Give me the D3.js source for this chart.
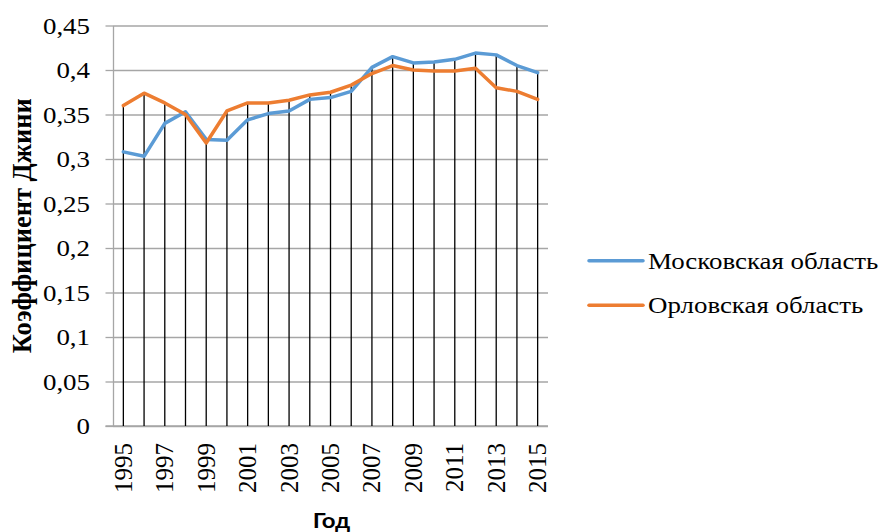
<!DOCTYPE html>
<html><head><meta charset="utf-8">
<script src="https://cdn.jsdelivr.net/npm/d3@7"></script>
<style>
html,body{margin:0;padding:0;background:#fff;}
svg{display:block;}
</style></head>
<body>
<svg id="chart" width="880" height="532"></svg>
<script>
const years = ["1995","1996","1997","1998","1999","2000","2001","2002","2003","2004","2005","2006","2007","2008","2009","2010","2011","2012","2013","2014","2015"];
const xTickLabels = ["1995","1997","1999","2001","2003","2005","2007","2009","2011","2013","2015"];
const yTicks = [0,0.05,0.1,0.15,0.2,0.25,0.3,0.35,0.4,0.45];
const seriesNames = ["Московская область","Орловская область"];
const moscow = [0.308,0.303,0.340,0.353,0.322,0.321,0.344,0.351,0.354,0.367,0.369,0.376,0.403,0.415,0.408,0.409,0.412,0.419,0.417,0.405,0.397];
const orel   = [0.360,0.374,0.363,0.350,0.318,0.354,0.363,0.363,0.366,0.372,0.375,0.383,0.396,0.405,0.400,0.399,0.399,0.402,0.380,0.376,0.367];
const colors = ["#5B9BD5","#ED7D31"];

const SERIF = '"Liberation Serif","Times New Roman",Times,serif';
const SX = 1.17; // horizontal stretch of the reference's type

const svg = d3.select("#chart");
const L = 113, R = 548, T = 25.5, B = 426;
const x = d3.scaleBand().domain(years).range([L, R]);
const y = d3.scaleLinear().domain([0, 0.45]).range([B, T]);
const cx = d => x(d) + x.bandwidth()/2;
const fmt = d => String(+d.toFixed(2)).replace(".", ",");

// gridlines
svg.append("g").attr("transform", `translate(${L},0)`)
  .call(d3.axisLeft(y).tickValues(yTicks).tickSize(-(R-L)).tickFormat(""))
  .call(g => g.select(".domain").remove())
  .call(g => g.selectAll("line").attr("stroke", "#a6a6a6").attr("stroke-width", 1.3));

// y axis
const ya = svg.append("g").attr("transform", `translate(${L},0)`)
  .call(d3.axisLeft(y).tickValues(yTicks).tickSize(7.5).tickSizeOuter(0).tickFormat(fmt));
ya.select(".domain").attr("stroke", "#a6a6a6").attr("stroke-width", 1.3);
ya.selectAll("line").attr("stroke", "#a6a6a6").attr("stroke-width", 1.3);
ya.selectAll("text")
  .style("font-family", SERIF).style("font-size", "23px").attr("fill", "#000")
  .attr("transform", `scale(${SX},1)`)
  .attr("x", -23 / SX).attr("dy", "0.34em");

// x axis
const xa = svg.append("g").attr("transform", `translate(0,${B})`)
  .call(d3.axisBottom(x).tickValues(xTickLabels).tickSize(0).tickSizeOuter(0));
xa.select(".domain").attr("d", `M${L-7.5},0H${R}`).attr("stroke", "#a6a6a6").attr("stroke-width", 1.3);
xa.selectAll("text")
  .style("font-family", SERIF).style("font-size", "25px").attr("fill", "#000")
  .attr("transform", "rotate(-90)").attr("text-anchor", "end")
  .attr("x", -17).attr("y", 0).attr("dy", "0.34em");

// drop lines
svg.append("g").selectAll("line").data(years).join("line")
  .attr("x1", d => cx(d)).attr("x2", d => cx(d))
  .attr("y1", (d,i) => y(Math.max(moscow[i], orel[i])))
  .attr("y2", B)
  .attr("stroke", "#000").attr("stroke-width", 1.3);

// series lines
const data = [moscow, orel];
const line = d3.line().x((d,i) => cx(years[i])).y(d => y(d));
svg.append("g").selectAll("path").data(data).join("path")
  .attr("d", d => line(d))
  .attr("fill", "none")
  .attr("stroke", (d,i) => colors[i])
  .attr("stroke-width", 3.5)
  .attr("stroke-linejoin", "round").attr("stroke-linecap", "round");

// legend
const lg = svg.append("g").selectAll("g").data(seriesNames).join("g")
  .attr("transform", (d,i) => `translate(589,${260.7 + i*44.5})`);
lg.append("line").attr("x1", 0).attr("x2", 54)
  .attr("stroke", (d,i) => colors[i]).attr("stroke-width", 3.5).attr("stroke-linecap", "round");
lg.append("text")
  .attr("transform", `translate(59,0) scale(${SX},1)`)
  .attr("dy", "0.36em")
  .style("font-family", SERIF).style("font-size", "23px").attr("fill", "#000")
  .text(d => d);

// axis titles
svg.append("text")
  .attr("transform", `translate(31,${(T+B)/2}) rotate(-90)`)
  .attr("text-anchor", "middle")
  .style("font-family", SERIF).style("font-weight", "bold").style("font-size", "26.5px")
  .text("Коэффициент Джини");
svg.append("text")
  .attr("transform", `translate(${(L+R)/2 + 1},528) scale(1.2,1)`)
  .attr("text-anchor", "middle")
  .style("font-family", 'Lato,"Open Sans",sans-serif').style("font-weight", "bold").style("font-size", "20px")
  .text("Год");
</script>
</body></html>
